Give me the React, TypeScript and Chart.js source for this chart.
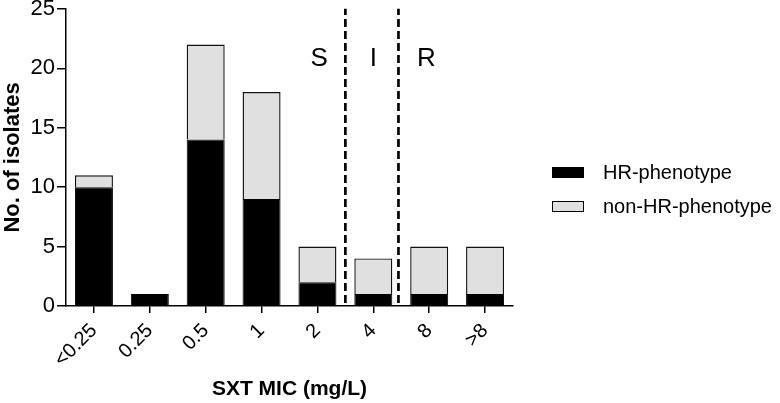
import React, { useEffect, useRef } from "react";
import { Chart, registerables } from "chart.js";

Chart.register(...registerables);

const categories = ["<0.25", "0.25", "0.5", "1", "2", "4", "8", ">8"];
const hrValues = [10, 1, 14, 9, 2, 1, 1, 1];
const nonHrValues = [1, null, 8, 9, 3, 3, 4, 4];
const seriesNames = ["HR-phenotype", "non-HR-phenotype"];
const yTicks = [0, 5, 10, 15, 20, 25];
const cutoffPositions = [4.5, 5.45];
const zoneLabels = ["S", "I", "R"];
const zoneLabelX = [4.03, 5, 5.95];
const zoneLabelY = 20.8;

const FONT = "'Liberation Sans', Arial, sans-serif";

const overlayPlugin = {
  id: "overlay",
  afterDatasetsDraw(chart: any) {
    const ctx = chart.ctx;
    const x = chart.scales.x;
    const y = chart.scales.y;
    ctx.save();
    // dashed cut-off lines
    ctx.strokeStyle = "#000";
    ctx.lineWidth = 2.7;
    ctx.setLineDash([8, 4]);
    cutoffPositions.forEach((p) => {
      const px = x.getPixelForValue(p);
      ctx.beginPath();
      ctx.moveTo(px, y.getPixelForValue(0) - 3);
      ctx.lineTo(px, chart.chartArea.top);
      ctx.stroke();
    });
    ctx.setLineDash([]);
    // zone labels
    ctx.fillStyle = "#000";
    ctx.font = `26px ${FONT}`;
    ctx.textAlign = "center";
    ctx.textBaseline = "middle";
    zoneLabels.forEach((t, i) => {
      ctx.fillText(t, x.getPixelForValue(zoneLabelX[i]), y.getPixelForValue(zoneLabelY));
    });
    // legend
    const colors = ["#000000", "#e0e0e0"];
    const lx = 552;
    const ly = [172, 206];
    ctx.font = `20px ${FONT}`;
    ctx.textAlign = "left";
    seriesNames.forEach((name, i) => {
      ctx.fillStyle = colors[i];
      ctx.fillRect(lx, ly[i] - 5, 32, 10);
      ctx.strokeStyle = "#000";
      ctx.lineWidth = 1;
      ctx.strokeRect(lx + 0.5, ly[i] - 5 + 0.5, 31, 10);
      ctx.fillStyle = "#000";
      ctx.fillText(name, 603, ly[i] + 1);
    });
    ctx.restore();
  },
};

export default function App() {
  const ref = useRef<HTMLCanvasElement | null>(null);
  useEffect(() => {
    document.body.style.margin = "0";
    const canvas = ref.current!;
    const chart = new Chart(canvas, {
      type: "bar",
      data: {
        labels: categories,
        datasets: [
          {
            label: seriesNames[0],
            data: hrValues,
            backgroundColor: "#000000",
            borderColor: "#000000",
            borderWidth: 1,
            barPercentage: 0.68,
            categoryPercentage: 1,
          },
          {
            label: seriesNames[1],
            data: nonHrValues as any,
            backgroundColor: "#e0e0e0",
            borderColor: "#111111",
            borderWidth: 1.4,
            barPercentage: 0.68,
            categoryPercentage: 1,
          },
        ],
      },
      options: {
        animation: false,
        responsive: false,
        layout: { padding: { top: 7, right: 267, left: 0, bottom: 0 } },
        plugins: { legend: { display: false }, tooltip: { enabled: false } },
        scales: {
          x: {
            stacked: true,
            offset: true,
            grid: {
              display: true,
              drawOnChartArea: false,
              drawTicks: true,
              tickLength: 7,
              color: "#000",
              lineWidth: 1.5,
              offset: false,
            },
            border: { display: true, color: "#000", width: 1.5 },
            ticks: {
              color: "#000",
              font: { family: FONT, size: 20 },
              maxRotation: 45,
              minRotation: 45,
              padding: 6,
            },
            title: {
              display: true,
              text: "SXT MIC (mg/L)",
              color: "#000",
              font: { family: FONT, size: 21, weight: "bold" },
              padding: { top: 0, bottom: 1 },
            },
            afterFit: (s: any) => {
              s.height = 97;
            },
          },
          y: {
            stacked: true,
            min: 0,
            max: 25,
            afterBuildTicks: (s: any) => {
              s.ticks = yTicks.map((v) => ({ value: v }));
            },
            grid: {
              display: true,
              drawOnChartArea: false,
              drawTicks: true,
              tickLength: 9,
              color: "#000",
              lineWidth: 1.5,
            },
            border: { display: true, color: "#000", width: 1.5 },
            ticks: {
              color: "#000",
              font: { family: FONT, size: 22, lineHeight: 0.62 },
              padding: 2,
            },
            title: {
              display: true,
              text: "No. of isolates",
              color: "#000",
              font: { family: FONT, size: 22, weight: "bold" },
              padding: { top: 0, bottom: 0 },
            },
            afterFit: (s: any) => {
              s.width = 66;
            },
          },
        },
      },
      plugins: [overlayPlugin],
    });
    return () => chart.destroy();
  }, []);
  return (
    <div style={{ width: 780, height: 403 }}>
      <canvas ref={ref} width={780} height={403} style={{ display: "block" }} />
    </div>
  );
}
